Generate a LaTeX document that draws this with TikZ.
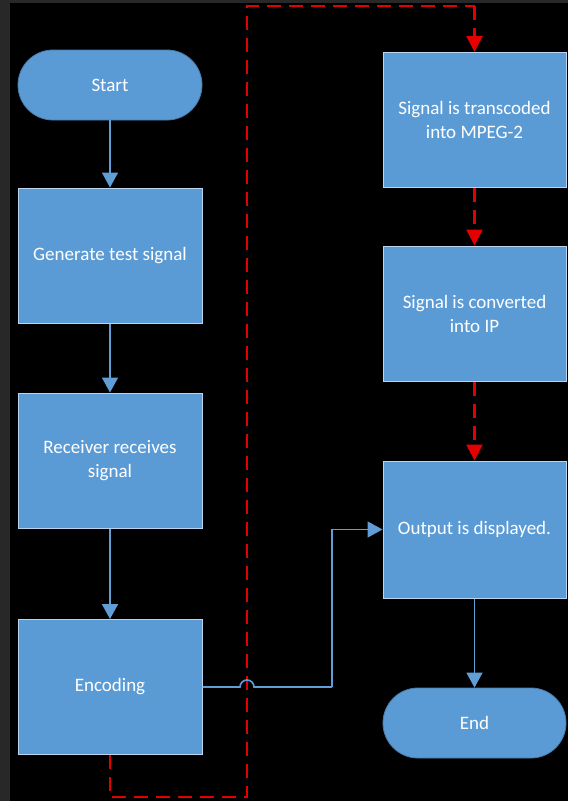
\documentclass[tikz,border=0pt]{standalone}
\usepackage{fontspec}
\setmainfont{Carlito}
\usetikzlibrary{arrows.meta}
\definecolor{boxblue}{RGB}{91,155,213}
\definecolor{boxedge}{RGB}{185,212,238}
\definecolor{lineblue}{RGB}{98,158,214}
\definecolor{dashred}{RGB}{228,0,0}
\definecolor{framegray}{RGB}{40,40,40}
\tikzset{
  procbox/.style={rectangle, fill=boxblue, draw=boxedge, line width=1pt,
    minimum width=184pt, minimum height=135pt, inner sep=0pt,
    text=white, align=center, font=\fontsize{19}{24}\selectfont},
  termbox/.style={rectangle, rounded corners=35pt, fill=boxblue, draw=boxblue!80!black, line width=0.8pt,
    minimum width=184pt, minimum height=70pt, inner sep=0pt,
    text=white, align=center, font=\fontsize{19}{24}\selectfont},
  flowline/.style={draw=lineblue, line width=1.6pt, -{Triangle[width=16pt,length=15pt]}},
  plainflow/.style={draw=lineblue, line width=1.6pt},
  redflow/.style={draw=dashred, line width=2.6pt, dash pattern=on 14pt off 8pt,
    -{Triangle[width=16pt,length=16pt]}},
  redplain/.style={draw=dashred, line width=2.6pt, dash pattern=on 14pt off 8pt},
}
\begin{document}
\begin{tikzpicture}[x=1pt,y=-1pt]
\useasboundingbox (0,0) rectangle (568,801);
\fill[framegray] (0,0) rectangle (568,801);
\fill[black] (10,3) rectangle (568,801);

% left column
\node[termbox] (start) at (110,85) {Start};
\node[procbox] (gen) at (110,255.5) {Generate test signal};
\node[procbox] (recv) at (110,460.5) {Receiver receives\\signal};
\node[procbox] (enc) at (110,687) {Encoding};

% right column
\node[procbox, minimum width=183pt] (trans) at (474.5,120) {Signal is transcoded\\into MPEG-2};
\node[procbox, minimum width=183pt] (conv) at (474.5,313.5) {Signal is converted\\into IP};
\node[procbox, minimum width=183pt, minimum height=137pt] (out) at (474.5,529.5) {Output is displayed.};
\node[termbox, minimum width=183pt] (endn) at (474.5,723) {End};

% blue connectors
\draw[flowline] (start) -- (gen);
\draw[flowline] (gen) -- (recv);
\draw[flowline] (recv) -- (enc);
\draw[flowline] (out) -- (endn);

% red dashed loop
\coordinate (rA) at (110,797);
\coordinate (rB) at (247,797);
\coordinate (rC) at (247,6);
\coordinate (rD) at (474.5,6);
\draw[redplain] (enc.south) -- (rA) -- (rB) -- (rC) -- (rD);
\draw[redflow] (rD) -- (trans.north);
\draw[redflow] (trans) -- (conv);
\draw[redflow] (conv) -- (out);

% encoding to output with a jump over the red line
\coordinate (jL) at (240,687);
\coordinate (jC) at (332,687);
\draw[plainflow] (enc.east) -- (jL) arc[start angle=180, end angle=0, radius=7pt] -- (jC);
\draw[flowline] (jC) |- (out.west);
\end{tikzpicture}
\end{document}
